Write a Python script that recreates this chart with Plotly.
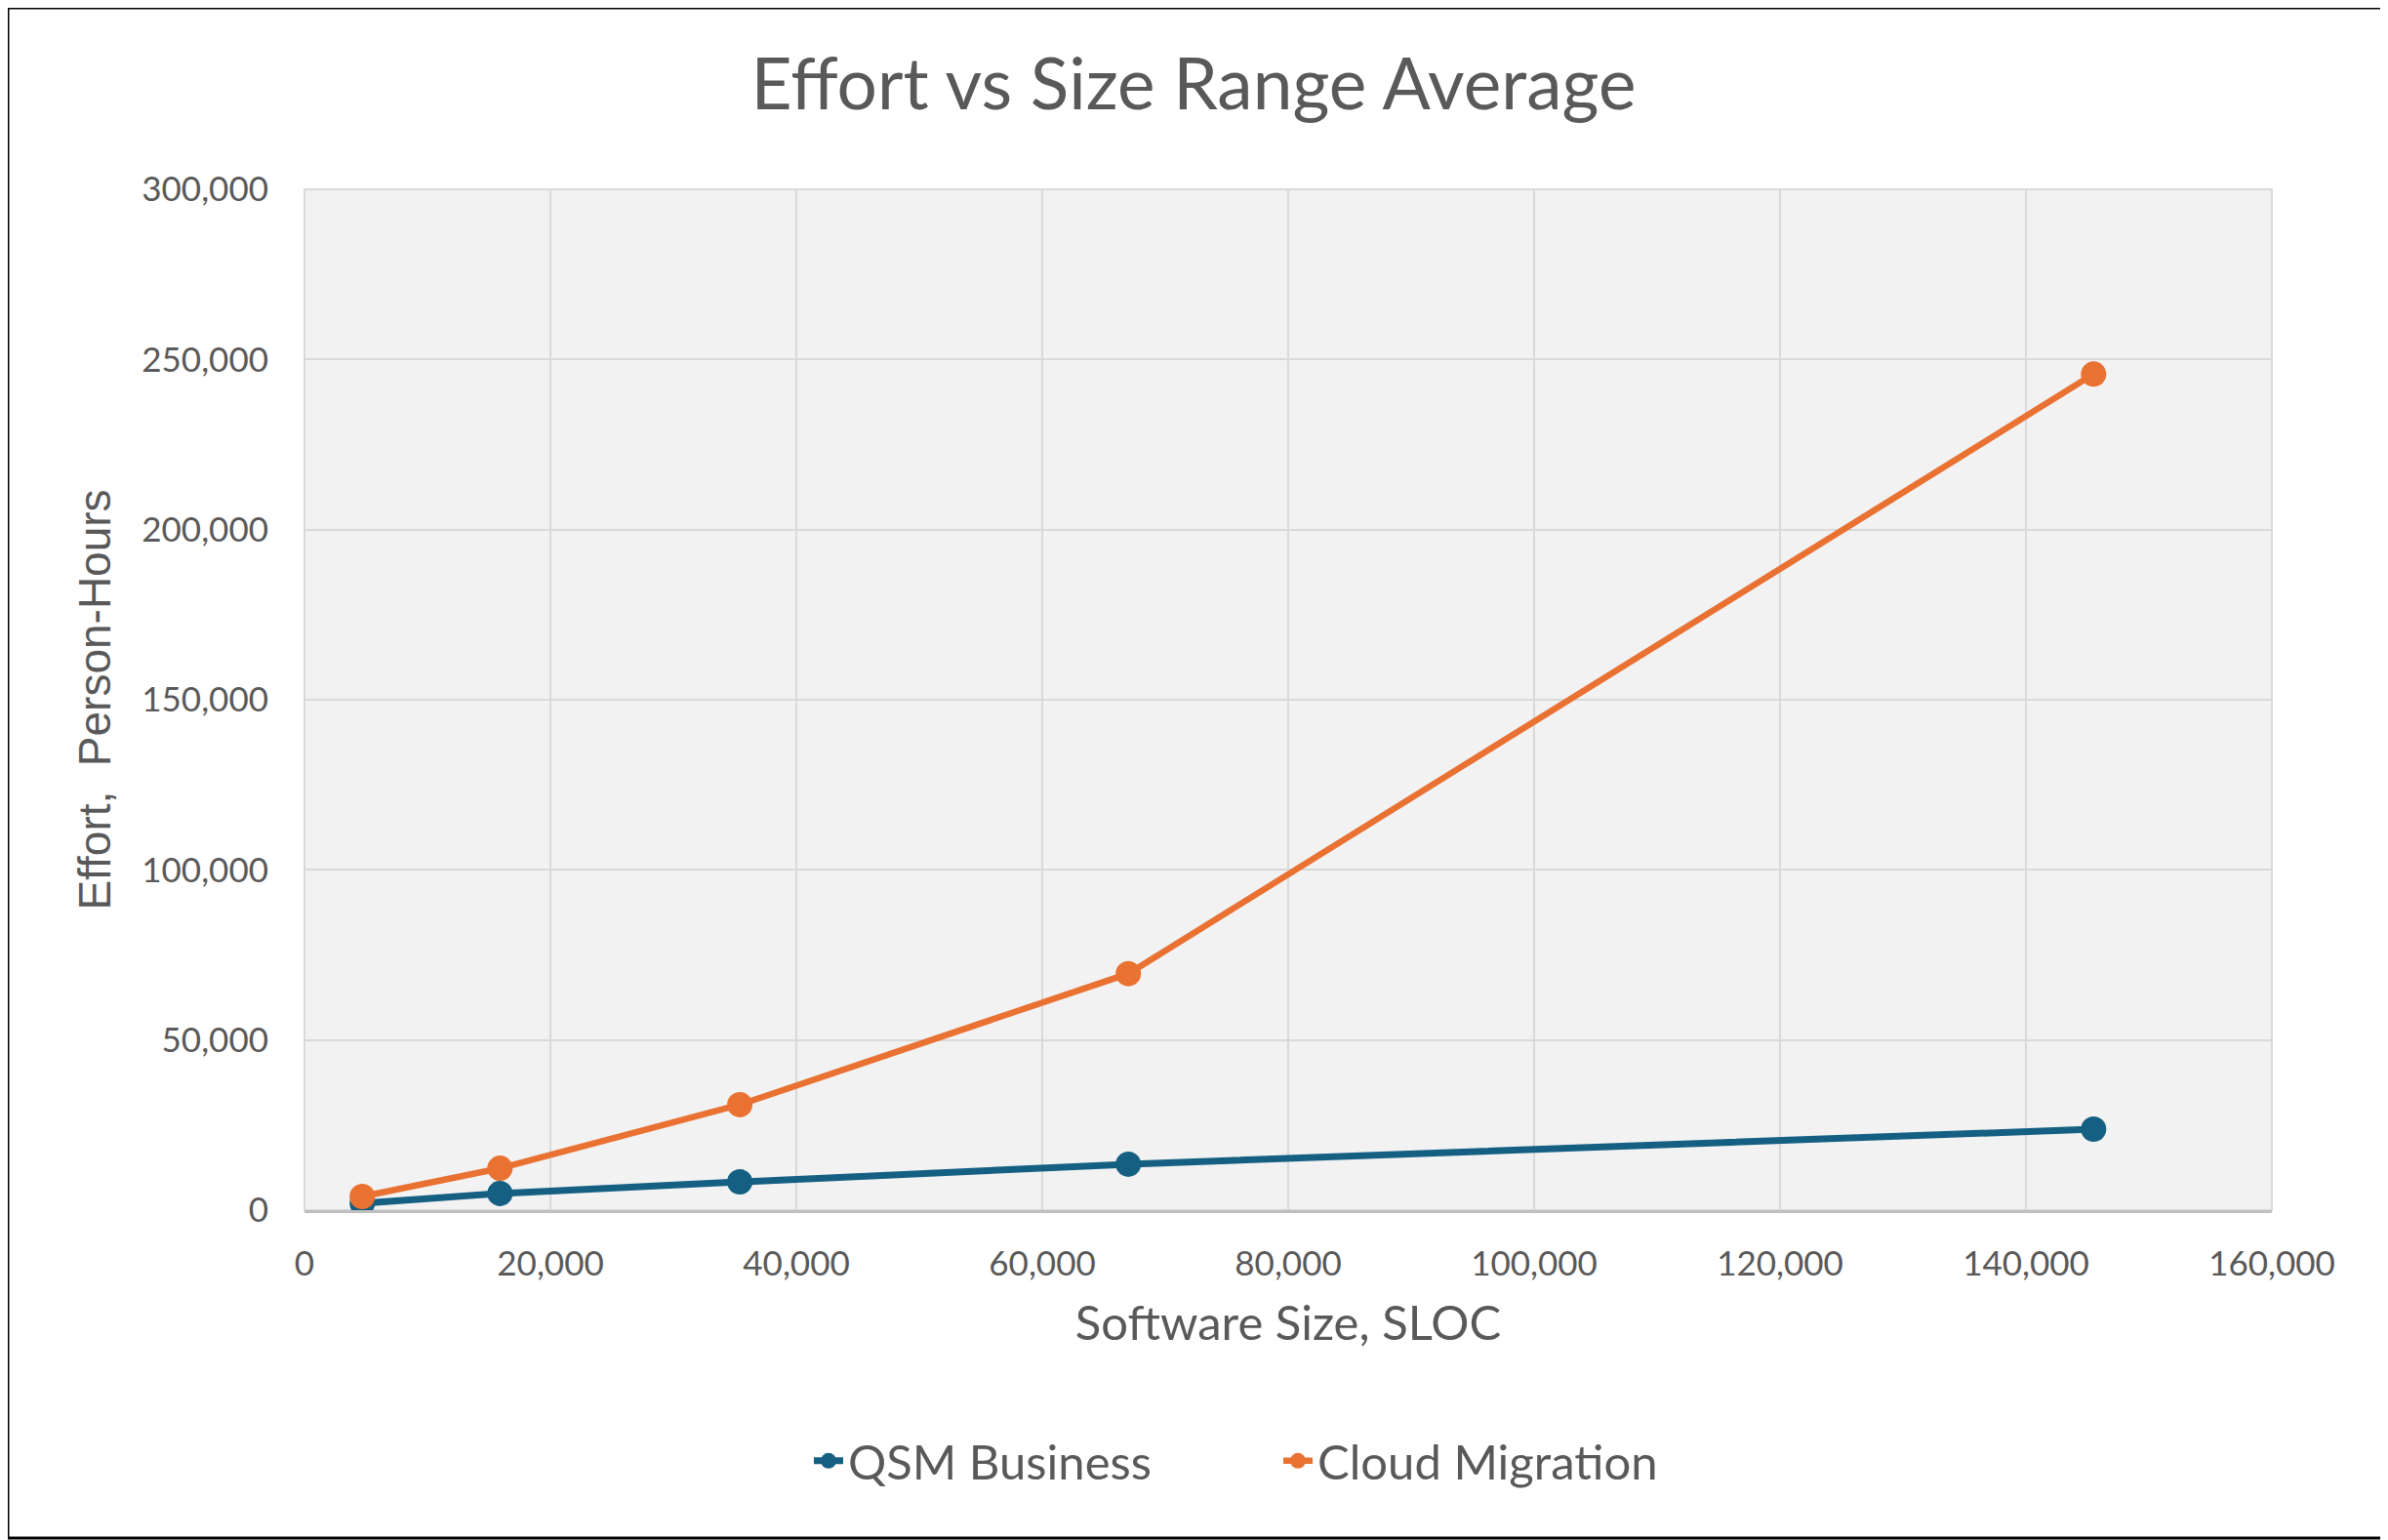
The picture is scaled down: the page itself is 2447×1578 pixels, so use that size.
import plotly.graph_objects as go

# Size range averages (SLOC) and effort (person-hours)
size_sloc = [4700, 15900, 35400, 67000, 145500]
qsm_business = [2000, 4900, 8300, 13500, 23800]
cloud_migration = [4000, 12300, 31000, 69500, 245700]

x_ticks = [0, 20000, 40000, 60000, 80000, 100000, 120000, 140000, 160000]
y_ticks = [0, 50000, 100000, 150000, 200000, 250000, 300000]

# page body has an 8px margin, so the figure is a bit smaller and shifted
PAD = 8
W, H = 2447 - PAD, 1578 - PAD
L, R, T, B = 312 - PAD, 119, 194 - PAD, 338
FONT = "Lato"
GREY = "#595959"


def paper_x(px):
    # px is a screen pixel of the reference picture
    return (px - PAD - L) / (W - L - R)


def paper_y(py):
    return (H - B - (py - PAD)) / (H - T - B)


fig = go.Figure()
fig.add_trace(go.Scatter(
    x=size_sloc, y=qsm_business, name="QSM Business", mode="lines+markers",
    line=dict(color="#156082", width=7),
    marker=dict(color="#156082", size=26),
))
fig.add_trace(go.Scatter(
    x=size_sloc, y=cloud_migration, name="Cloud Migration", mode="lines+markers",
    line=dict(color="#E97132", width=6.5),
    marker=dict(color="#E97132", size=26),
))

fig.update_layout(
    width=W, height=H,
    margin=dict(l=L, r=R, t=T, b=B),
    paper_bgcolor="white",
    plot_bgcolor="#F2F2F2",
    font=dict(family=FONT, color=GREY, size=35),
    title=dict(text="Effort vs Size Range Average", x=(1223 - PAD) / W, xref="container",
               y=1 - (86 - PAD) / H, yref="container", xanchor="center", yanchor="middle",
               font=dict(family=FONT, size=73, color=GREY)),
    showlegend=True,
    legend=dict(orientation="h", x=paper_x(829), xanchor="left",
                y=paper_y(1497), yanchor="middle",
                font=dict(family=FONT, size=49, color=GREY),
                entrywidth=436, bgcolor="rgba(0,0,0,0)"),
    xaxis=dict(range=[0, 160000], tickvals=x_ticks, tickformat=",d",
               showgrid=True, gridcolor="#D9D9D9", gridwidth=2,
               showline=True, linecolor="#BFBFBF", linewidth=3,
               mirror=False, zeroline=False, ticks="",
               ticklabelstandoff=22,
               tickfont=dict(family=FONT, size=35, color=GREY),
               title=dict(text="Software Size, SLOC", standoff=26,
                          font=dict(family=FONT, size=49, color=GREY))),
    yaxis=dict(range=[0, 300000], tickvals=y_ticks, tickformat=",d",
               showgrid=True, gridcolor="#D9D9D9", gridwidth=2,
               showline=False, zeroline=False, ticks="",
               ticklabelstandoff=36,
               tickfont=dict(family=FONT, size=35, color=GREY),
               title=dict(text="Effort,  Person-Hours", standoff=17,
                          font=dict(family="Liberation Sans", size=46, color=GREY))),
)

# light frame on the left, top and right edges of the plot area
fig.add_shape(type="rect", xref="paper", yref="paper", x0=0, y0=0, x1=1, y1=1,
              line=dict(color="#D9D9D9", width=2), layer="below")
# black outer border of the chart
fig.add_shape(type="rect", xref="paper", yref="paper",
              x0=-L / (W - L - R), x1=(W - L - 2) / (W - L - R),
              y0=-(B - 2) / (H - T - B), y1=(H - B) / (H - T - B),
              line=dict(color="black", width=3))

fig.write_html("out.html")
